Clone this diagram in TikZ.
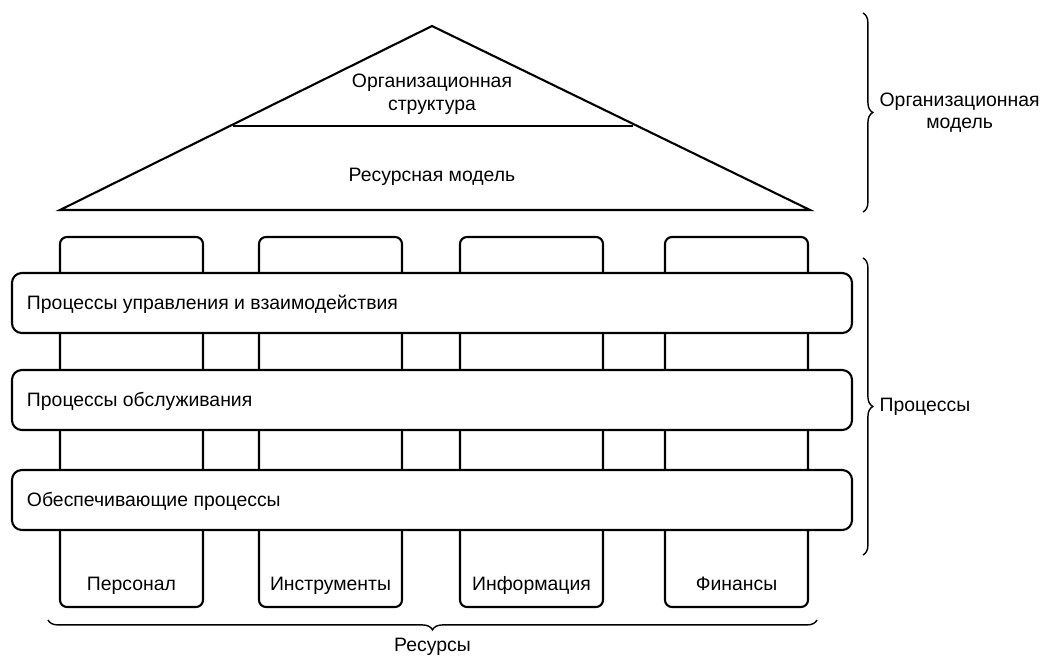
\documentclass[tikz,border=0pt]{standalone}
\usepackage{fontspec}
\setmainfont{Liberation Sans}
\usetikzlibrary{decorations.pathreplacing}

\tikzset{
  heavy/.style={line width=1.5pt},
  pillar/.style={heavy, rounded corners=5pt},
  band/.style={heavy, fill=white, rounded corners=7pt},
  lbl/.style={font=\fontsize{13.8}{16}\selectfont, align=center},
  bracer/.style={decorate, decoration={brace, amplitude=7pt}, line width=1pt},
}

\begin{document}
\begin{tikzpicture}[x=0.025cm,y=-0.025cm]
\useasboundingbox (0,0) rectangle (1047,659);

% roof
\draw[heavy, line join=miter] (60,210) -- (432,26) -- (810,210) -- cycle;
\draw[heavy] (233,126) -- (633,126);
\node[lbl] (orgstr) at (432,94) {Организационная\\структура};
\node[lbl] (resmod) at (432,177) {Ресурсная модель};

% pillars
\foreach \l/\n/\t in {60/pers/Персонал, 259/instr/Инструменты, 460/info/Информация, 665/fin/Финансы}{
	\draw[pillar] (\l,237) rectangle ++(143,370);
	\node[lbl, text height=1.6ex, text depth=.4ex] (\n) at (\l+71.5,586) {\t};
}

% process bands
\foreach \y/\n/\t in {273/upr/Процессы управления и взаимодействия, 370/obs/Процессы обслуживания, 470/obes/Обеспечивающие процессы}{
	\draw[band] (12,\y) rectangle (852,\y+60);
	\node[lbl, anchor=west] (\n) at (22,\y+31) {\t};
}

% braces
\coordinate (om1) at (863,13);
\coordinate (om2) at (863,212);
\draw[bracer] (om1) -- (om2) node[midway, right=8pt, lbl] (orgmod) {Организационная\\модель};

\coordinate (pr1) at (863,258);
\coordinate (pr2) at (863,555);
\draw[bracer] (pr1) -- (pr2) node[midway, right=8pt, lbl] (proc) {Процессы};

\coordinate (rs1) at (817,620);
\coordinate (rs2) at (48,620);
\draw[bracer] (rs1) -- (rs2) node[midway, below=9pt, lbl] (res) {Ресурсы};
\end{tikzpicture}
\end{document}
